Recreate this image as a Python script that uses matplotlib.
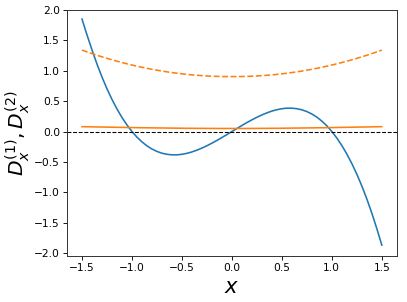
import numpy as np
import matplotlib
matplotlib.use("Agg")
import matplotlib.pyplot as plt

# x grid
x = [-1.50, -1.45, -1.40, -1.35, -1.30, -1.25, -1.20, -1.15, -1.10, -1.05,
     -1.00, -0.95, -0.90, -0.85, -0.80, -0.75, -0.70, -0.65, -0.60, -0.55,
     -0.50, -0.45, -0.40, -0.35, -0.30, -0.25, -0.20, -0.15, -0.10, -0.05,
     0.00, 0.05, 0.10, 0.15, 0.20, 0.25, 0.30, 0.35, 0.40, 0.45,
     0.50, 0.55, 0.60, 0.65, 0.70, 0.75, 0.80, 0.85, 0.90, 0.95,
     1.00, 1.05, 1.10, 1.15, 1.20, 1.25, 1.30, 1.35, 1.40, 1.45, 1.50]

# blue curve
d1 = [1.850, 1.590, 1.344, 1.110, 0.897, 0.703, 0.528, 0.371, 0.231, 0.108,
      0.000, -0.093, -0.171, -0.236, -0.288, -0.328, -0.357, -0.375, -0.384, -0.384,
      -0.375, -0.359, -0.336, -0.307, -0.273, -0.234, -0.192, -0.147, -0.099, -0.050,
      0.000, 0.050, 0.099, 0.147, 0.192, 0.234, 0.273, 0.307, 0.336, 0.359,
      0.375, 0.384, 0.384, 0.375, 0.357, 0.328, 0.288, 0.236, 0.171, 0.093,
      0.000, -0.108, -0.231, -0.371, -0.528, -0.703, -0.897, -1.110, -1.344, -1.599, -1.870]

# orange dashed
d2_dash = [1.340, 1.310, 1.282, 1.255, 1.229, 1.204, 1.180, 1.157, 1.135, 1.114,
           1.094, 1.075, 1.057, 1.040, 1.024, 1.009, 0.995, 0.982, 0.970, 0.959,
           0.949, 0.940, 0.932, 0.925, 0.919, 0.914, 0.910, 0.907, 0.905, 0.904,
           0.904, 0.904, 0.905, 0.907, 0.910, 0.914, 0.919, 0.925, 0.932, 0.940,
           0.949, 0.959, 0.970, 0.982, 0.995, 1.009, 1.024, 1.040, 1.057, 1.075,
           1.094, 1.114, 1.135, 1.157, 1.180, 1.204, 1.229, 1.255, 1.282, 1.310, 1.340]

# orange solid
d2_solid = [0.080, 0.078, 0.077, 0.075, 0.074, 0.072, 0.071, 0.069, 0.068, 0.066,
            0.065, 0.063, 0.062, 0.061, 0.060, 0.059, 0.058, 0.057, 0.056, 0.055,
            0.054, 0.053, 0.053, 0.052, 0.052, 0.051, 0.051, 0.050, 0.050, 0.050,
            0.050, 0.050, 0.050, 0.050, 0.051, 0.051, 0.052, 0.052, 0.053, 0.053,
            0.054, 0.055, 0.056, 0.057, 0.058, 0.059, 0.060, 0.061, 0.062, 0.063,
            0.065, 0.066, 0.068, 0.069, 0.071, 0.072, 0.074, 0.075, 0.077, 0.078, 0.080]

dpi = 63.6
fig = plt.figure(figsize=(407 / dpi, 302 / dpi), dpi=dpi)
ax = fig.add_axes([0.1646, 0.152, 0.8104, 0.815])

ax.plot(x, d1, color="C0", linewidth=1.8)
ax.plot(x, d2_dash, color="C1", linestyle="--", linewidth=1.8)
ax.plot(x, d2_solid, color="C1", linewidth=1.8)
ax.axhline(0, color="black", linestyle="--", linewidth=1.2)

ax.set_xlim(-1.65, 1.65)
ax.set_ylim(-2.05, 2.0)
ax.tick_params(labelsize=12, length=4.5, width=1)
for s in ax.spines.values():
    s.set_linewidth(1.1)
    s.set_color("#333333")
ax.set_xlabel(r"$x$", fontsize=24)
ax.set_ylabel(r"$D_x^{(1)}, D_x^{(2)}$", fontsize=23, labelpad=2)

fig.savefig("out.png", dpi=dpi)
